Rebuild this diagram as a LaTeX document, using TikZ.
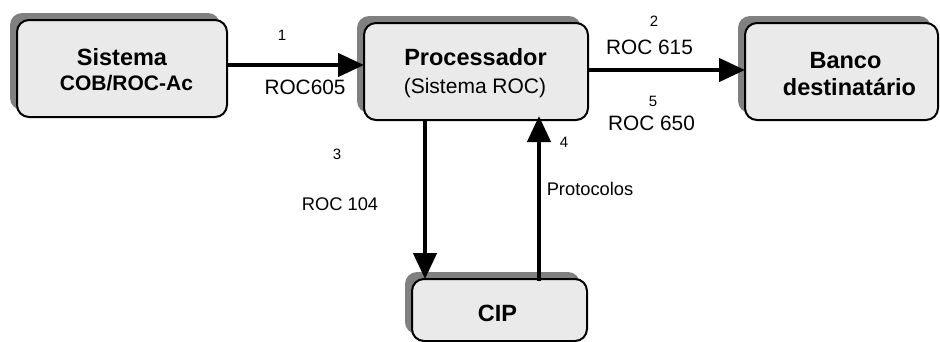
\documentclass[tikz,border=0pt]{standalone}
\usepackage{fontspec}
\setmainfont{Liberation Sans}
\usetikzlibrary{arrows.meta,shadows}
\definecolor{boxfill}{HTML}{EAEAEA}
\definecolor{shadowgray}{HTML}{808080}
\newcommand{\fs}[1]{\fontsize{#1}{#1}\selectfont}
\begin{document}
\begin{tikzpicture}[x=1pt,y=-1pt,
  box/.style={draw=black,line width=2pt,fill=boxfill,rounded corners=12pt,
    inner sep=0pt,outer sep=0pt,
    drop shadow={shadow xshift=-7pt,shadow yshift=7pt,fill=shadowgray,opacity=1}},
  boxbold/.style={anchor=base,inner sep=0pt,font=\fs{23.5}\bfseries},
  boxsub/.style={anchor=base,inner sep=0pt,font=\fs{21}},
  lbl/.style={anchor=base,inner sep=0pt,font=\fs{20.8}},
  lblsmall/.style={anchor=base,inner sep=0pt,font=\fs{18.3}},
  num/.style={anchor=base,inner sep=0pt,font=\fs{15}},
  flow/.style={line width=4.5pt,-{Triangle[length=26pt,width=23pt]}}]
\useasboundingbox (0,0) rectangle (940,341);
\clip (0,0) rectangle (940,341);
% boxes
\node[box,minimum width=210pt,minimum height=97pt] (sis) at (122,68.5) {};
\node[box,minimum width=224pt,minimum height=97pt] (proc) at (476,71.5) {};
\node[box,minimum width=193pt,minimum height=97pt] (banco) at (841.5,71.5) {};
\node[box,minimum width=175pt,minimum height=62pt] (cip) at (499.5,310) {};
% box texts
\node[boxbold] (t1) at (122,65) {Sistema};
\node[boxbold,font=\fs{21}\bfseries] (t2) at (126.5,90.7) {COB/ROC-Ac};
\node[boxbold] (t3) at (475.5,65) {Processador};
\node[boxsub] (t4) at (475,93) {(Sistema ROC)};
\node[boxbold] (t5) at (845.5,68.3) {Banco};
\node[boxbold] (t6) at (849.5,95) {destinatário};
\node[boxbold] (t7) at (497.5,321.7) {CIP};
% connectors
\draw[flow] ([yshift=3.5pt]sis.east) -- ([yshift=6.5pt]proc.west);
\draw[flow] ([yshift=1.5pt]proc.east) -- ([yshift=1.5pt]banco.west);
\draw[flow] ([xshift=-51pt]proc.south) -- ([xshift=-51pt]proc.south |- cip.north);
\draw[flow,shorten <=-2pt,shorten >=-4pt] ([xshift=39.5pt]cip.north) -- ([xshift=39.5pt]cip.north |- proc.south);
% labels
\node[num] (n1) at (282,40.7) {1};
\node[lbl] (l1) at (305,94.3) {ROC605};
\node[num] (n2) at (654,26) {2};
\node[lbl] (l2) at (649.5,54) {ROC 615};
\node[num] (n5) at (653,106.7) {5};
\node[lbl] (l5) at (651.5,130) {ROC 650};
\node[num] (n3) at (337,159.3) {3};
\node[lblsmall] (l3) at (340,210) {ROC 104};
\node[num] (n4) at (564,147.3) {4};
\node[lblsmall] (l4) at (590,195) {Protocolos};
\end{tikzpicture}
\end{document}
